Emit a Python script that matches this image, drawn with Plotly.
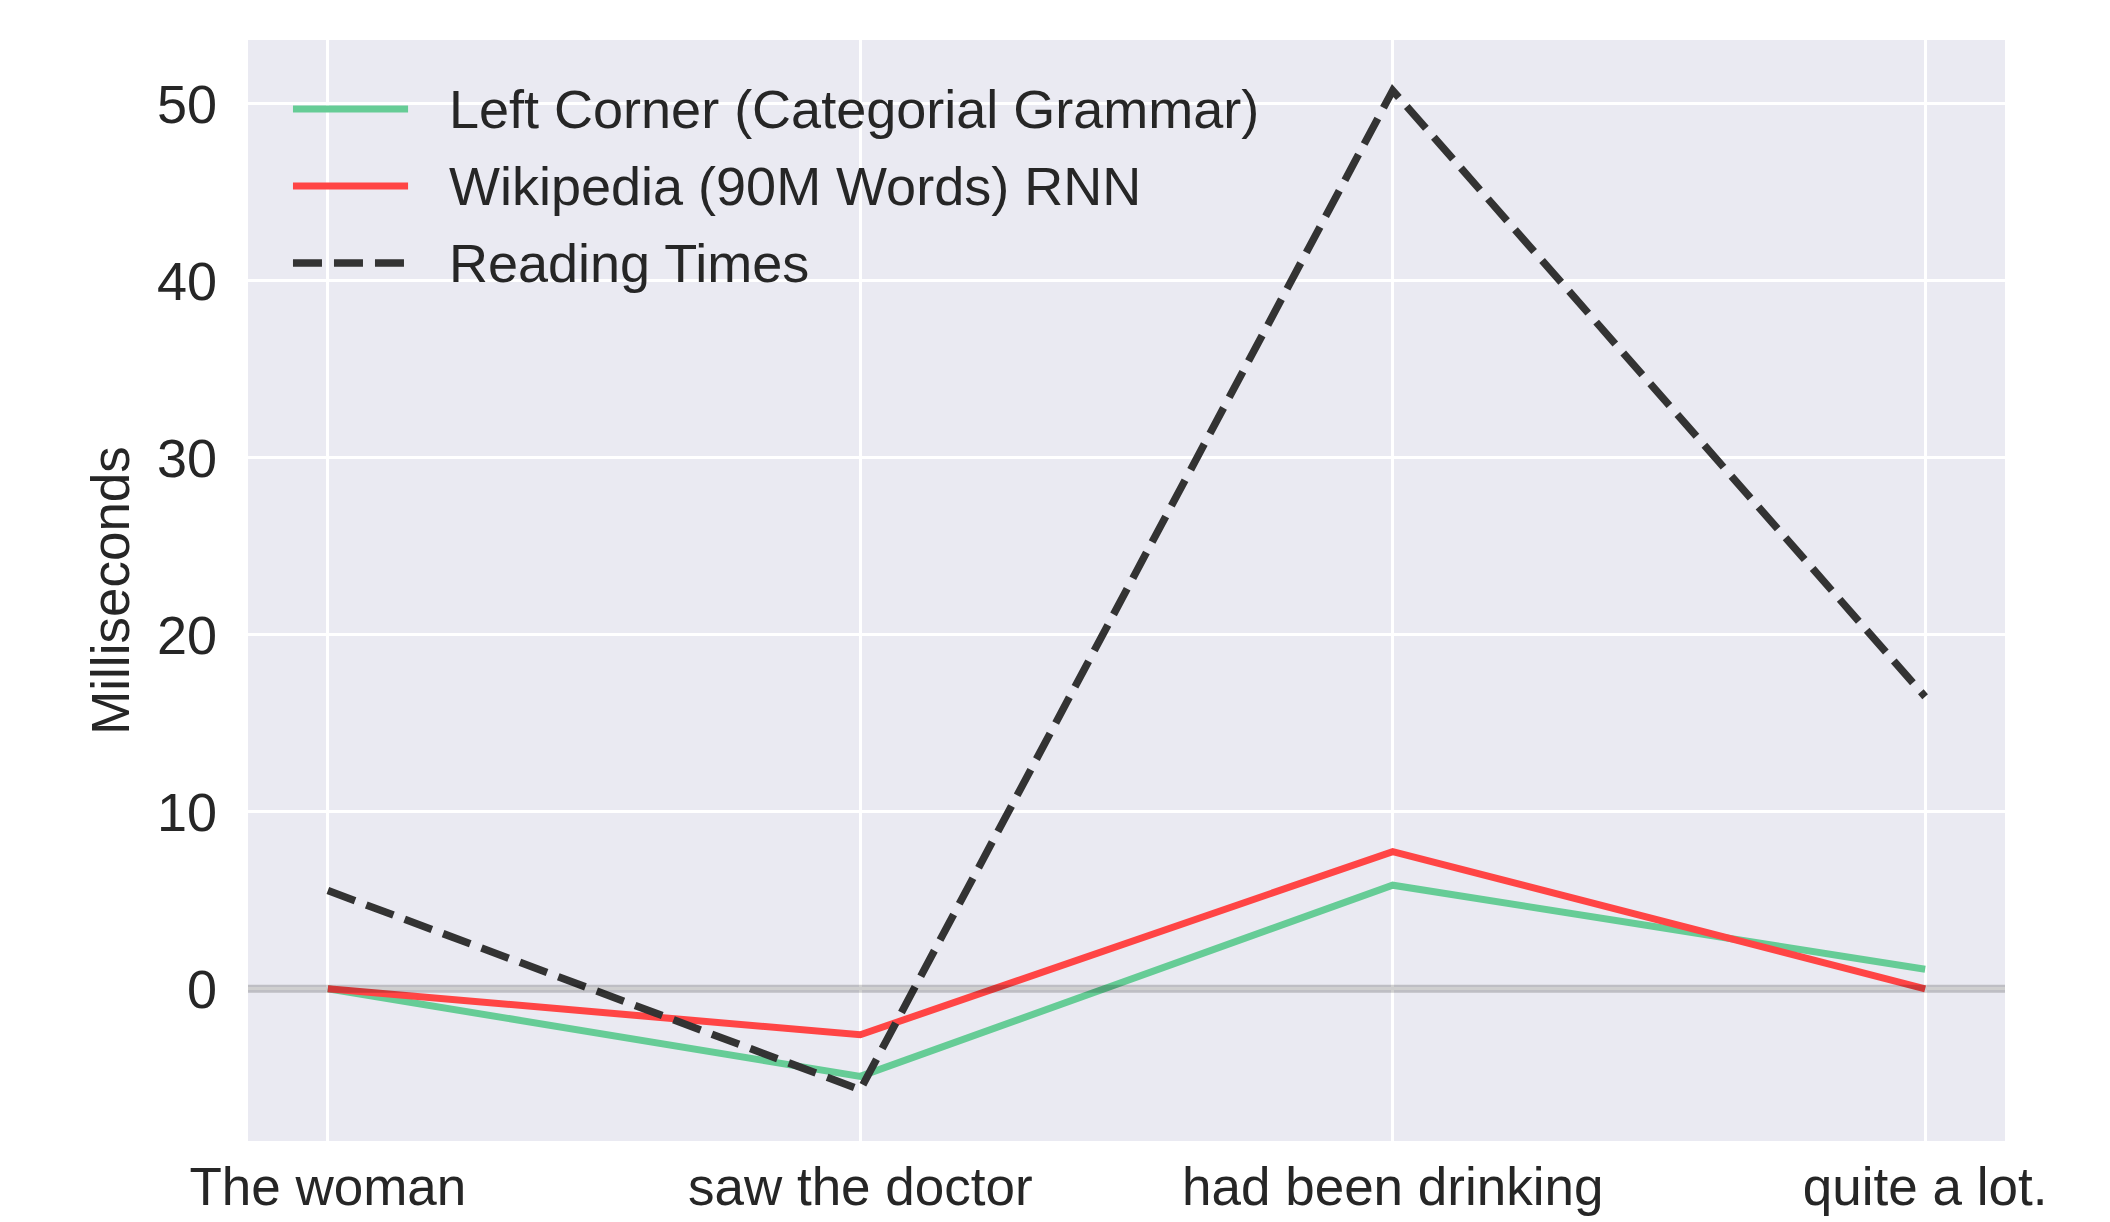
import plotly.graph_objects as go

categories = ["The woman", "saw the doctor", "had been drinking", "quite a lot."]
left_corner = [0.0, -4.95, 5.85, 1.1]
wikipedia_rnn = [0.0, -2.6, 7.75, 0.0]
reading_times = [5.55, -5.7, 50.75, 16.5]
y_ticks = [0, 10, 20, 30, 40, 50]

series_names = ["Left Corner (Categorial Grammar)", "Wikipedia (90M Words) RNN", "Reading Times"]
series_colors = ["#66CC96", "#FF4545", "#333333"]
series_values = [left_corner, wikipedia_rnn, reading_times]
series_dash = ["solid", "solid", "29px,12px"]
series_width = [7, 7, 7.5]

fig = go.Figure()
for name, vals, col, dash, w in zip(series_names, series_values, series_colors, series_dash, series_width):
    fig.add_trace(go.Scatter(x=categories, y=vals, mode="lines", name=name,
                             line=dict(color=col, width=w, dash=dash), showlegend=False))

fig.add_hline(y=0, line=dict(color="rgba(0,0,0,0.19)", width=8), layer="above")

# manual legend (long line samples like the original)
legend_rows_y = [0.9373, 0.8674, 0.7975]
for name, col, dash, w, ly in zip(series_names, series_colors, series_dash, series_width, legend_rows_y):
    fig.add_shape(type="line", xref="paper", yref="paper", x0=0.0256, x1=0.0911, y0=ly, y1=ly,
                  line=dict(color=col, width=w, dash=dash), layer="above")
    fig.add_annotation(xref="paper", yref="paper", x=0.113, y=ly, text=name, showarrow=False,
                       xanchor="left", yanchor="middle", font=dict(size=54, color="#262626"))

fig.update_layout(
    width=2102, height=1214,
    margin=dict(l=240, r=105, t=32, b=81),
    plot_bgcolor="#EAEAF2", paper_bgcolor="white",
    font=dict(family="Liberation Sans, Arial, sans-serif", size=54, color="#262626"),
    showlegend=False,
)
fig.update_xaxes(range=[-0.15, 3.15], showgrid=True, gridcolor="white", gridwidth=3,
                 zeroline=False, showline=False, ticks="", ticklabelstandoff=10,
                 tickfont=dict(size=53), automargin=False)
fig.update_yaxes(range=[-8.6, 53.6], tickvals=y_ticks, showgrid=True, gridcolor="white",
                 gridwidth=3, zeroline=False, showline=False, ticks="",
                 ticklabelstandoff=30, automargin=False,
                 title=dict(text="Milliseconds", standoff=10, font=dict(size=53)))

fig.write_html("out.html")
